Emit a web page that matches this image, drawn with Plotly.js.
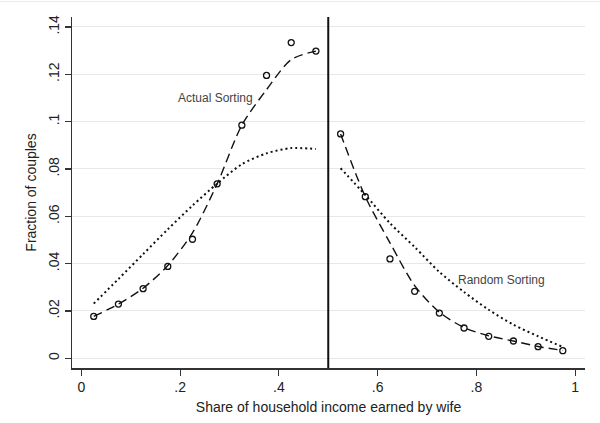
<!DOCTYPE html>
<html>
<head>
<meta charset="utf-8">
<script src="https://cdn.plot.ly/plotly-3.0.1.min.js"></script>
<style>html,body{margin:0;padding:0;background:#fff;}#chart{width:600px;height:423px;}</style>
</head>
<body>
<div id="chart"></div>
<script>
// Bin midpoints (share of household income earned by wife)
const binsLeft  = [0.025,0.075,0.125,0.175,0.225,0.275,0.325,0.375,0.425,0.475];
const binsRight = [0.525,0.575,0.625,0.675,0.725,0.775,0.825,0.875,0.925,0.975];
// Observed fraction of couples (circles)
const actualLeft  = [0.0177,0.0229,0.0294,0.0388,0.0503,0.0737,0.0985,0.1195,0.1334,0.1298];
const actualRight = [0.0948,0.0683,0.0420,0.0283,0.0191,0.0128,0.0093,0.0073,0.0049,0.0032];
// Smoothed fit of actual sorting (dashed)
const fitActualLeft  = [0.0177,0.0229,0.0296,0.0392,0.0530,0.0737,0.0985,0.1135,0.1262,0.1298];
const fitActualRight = [0.0948,0.0683,0.0488,0.0307,0.0195,0.0130,0.0095,0.0073,0.0050,0.0033];
// Random sorting (dotted)
const fitRandomLeft  = [0.0231,0.0335,0.0440,0.0545,0.0645,0.0738,0.0820,0.0866,0.0888,0.0884];
const fitRandomRight = [0.0803,0.0690,0.0571,0.0470,0.0365,0.0280,0.0205,0.0142,0.0093,0.0048];
// Axis ticks
const xTickVals = [0,0.2,0.4,0.6,0.8,1];
const xTickText = ["0",".2",".4",".6",".8","1"];
const yTickVals = [0,0.02,0.04,0.06,0.08,0.1,0.12,0.14];
const yTickText = ["0",".02",".04",".06",".08",".1",".12",".14"];
const cutoff = 0.5;
const labels = [
  {text:"Actual Sorting", x:0.272, y:0.1098},
  {text:"Random Sorting", x:0.85, y:0.0329}
];

const dotted = {color:'#111', width:2, dash:'2px,3px'};
const dashed = {color:'#111', width:1.4, dash:'9px,5px'};
const traces = [
  {x:binsLeft, y:fitRandomLeft, mode:'lines', line:Object.assign({shape:'spline', smoothing:0.8},dotted), hoverinfo:'skip'},
  {x:binsRight, y:fitRandomRight, mode:'lines', line:Object.assign({shape:'spline', smoothing:0.8},dotted), hoverinfo:'skip'},
  {x:binsLeft, y:fitActualLeft, mode:'lines', line:Object.assign({shape:'spline', smoothing:0.8},dashed), hoverinfo:'skip'},
  {x:binsRight, y:fitActualRight, mode:'lines', line:Object.assign({shape:'spline', smoothing:0.8},dashed), hoverinfo:'skip'},
  {x:binsLeft, y:actualLeft, mode:'markers', marker:{symbol:'circle-open', size:6, color:'#111', line:{width:1.3, color:'#111'}}},
  {x:binsRight, y:actualRight, mode:'markers', marker:{symbol:'circle-open', size:6, color:'#111', line:{width:1.3, color:'#111'}}}
];

const font = {family:'"Liberation Sans", Arial, sans-serif', size:14, color:'#222'};
const layout = {
  width:600, height:423,
  margin:{l:72, r:15, t:17, b:55},
  paper_bgcolor:'#fff', plot_bgcolor:'#fff',
  showlegend:false,
  font:font,
  xaxis:{
    range:[-0.019,1.02], tickvals:xTickVals, ticktext:xTickText,
    showgrid:false, zeroline:false, showline:true, linecolor:'#333', linewidth:1.5,
    ticks:'outside', ticklen:6, tickcolor:'#333', tickwidth:1.2,
    tickfont:{family:font.family, size:14, color:'#222'},
    title:{text:'Share of household income earned by wife', font:{family:font.family, size:14, color:'#222'}, standoff:8}
  },
  yaxis:{
    range:[-0.0041,0.1442], tickvals:yTickVals, ticktext:yTickText, tickangle:-90,
    showgrid:true, gridcolor:'#e8e8e8', gridwidth:1, zeroline:false,
    showline:true, linecolor:'#333', linewidth:1.5,
    ticks:'outside', ticklen:6, tickcolor:'#333', tickwidth:1.2,
    tickfont:{family:font.family, size:14, color:'#222'},
    title:{text:'Fraction of couples', font:{family:font.family, size:14, color:'#222'}, standoff:6}
  },
  shapes:[
    {type:'line', xref:'x', yref:'paper', x0:cutoff, x1:cutoff, y0:0, y1:1, line:{color:'#111', width:2}},
    {type:'line', xref:'paper', yref:'paper', x0:-0.15, x1:1.03, y0:1.044, y1:1.044, line:{color:'#ececec', width:1}}
  ],
  annotations: labels.map(l => ({x:l.x, y:l.y, xref:'x', yref:'y', text:l.text, showarrow:false,
    font:{family:font.family, size:12, color:'#444'}}))
};

Plotly.newPlot('chart', traces, layout, {staticPlot:true, displayModeBar:false});
</script>
</body>
</html>
